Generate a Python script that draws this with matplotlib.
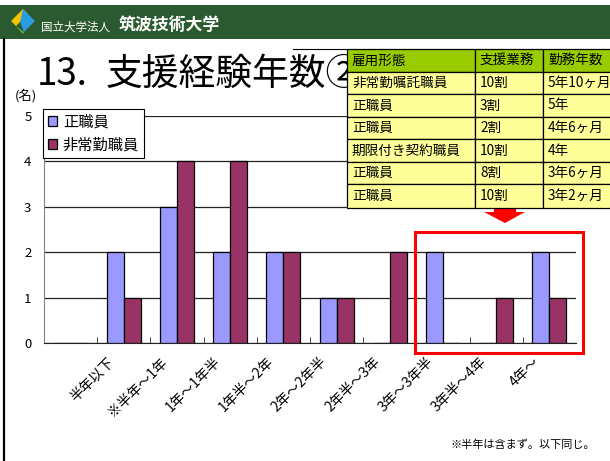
import numpy as np
import matplotlib
matplotlib.use("Agg")
import matplotlib.pyplot as plt
import matplotlib.transforms as mtransforms
from matplotlib.patches import Rectangle, Polygon, Patch
from matplotlib.lines import Line2D

plt.rcParams['font.family'] = ['Noto Sans CJK JP', 'DejaVu Sans']

# 経験年数の区分（先頭は空の区分）
categories = ["", "半年以下", "※半年～1年", "1年～1年半", "1年半～2年", "2年～2年半",
              "2年半～3年", "3年～3年半", "3年半～4年", "4年～"]
seishokuin = [0, 2, 3, 2, 2, 1, 0, 2, 0, 2]
hijoukin = [0, 1, 4, 4, 2, 1, 2, 0, 1, 1]
series_names = ["正職員", "非常勤職員"]

# 3年以上の職員一覧
table_header = ["雇用形態", "支援業務", "勤務年数"]
table_rows = [
    ["非常勤嘱託職員", "10割", "5年10ヶ月"],
    ["正職員", "3割", "5年"],
    ["正職員", "2割", "4年6ヶ月"],
    ["期限付き契約職員", "10割", "4年"],
    ["正職員", "8割", "3年6ヶ月"],
    ["正職員", "10割", "3年2ヶ月"],
]

W, H = 610, 461
fig = plt.figure(figsize=(W / 100, H / 100), dpi=100)


def fx(x):
    return x / W


def fy(y):
    return 1 - y / H


def rect(x0, y0, x1, y1, **kw):
    r = Rectangle((fx(x0), fy(y1)), fx(x1) - fx(x0), fy(y0) - fy(y1),
                  transform=fig.transFigure, **kw)
    fig.add_artist(r)
    return r


def poly(pts, **kw):
    p = Polygon([(fx(x), fy(y)) for x, y in pts], closed=True,
                transform=fig.transFigure, **kw)
    fig.add_artist(p)
    return p


# ヘッダー帯
rect(0, 5, W, 39, facecolor="#2c5a30", edgecolor="none", zorder=1)
poly([(11, 21), (23, 9), (28, 14), (16, 26)], facecolor="#f2c400", edgecolor="none", zorder=2)
poly([(23, 9), (35, 21), (24, 32), (20, 22)], facecolor="#2a9be0", edgecolor="none", zorder=2)
poly([(11, 21), (16, 26), (24, 32), (23, 34)], facecolor="#5cb531", edgecolor="none", zorder=2)
fig.text(fx(41), fy(27), "国立大学法人", color="white", fontsize=8.3, va="center", zorder=3)
fig.text(fx(119), fy(25), "筑波技術大学", color="white", fontsize=12.2,
         fontweight="bold", va="center", zorder=3)

# 左の縦線
fig.add_artist(Line2D([fx(4), fx(4)], [fy(39), fy(H)], color="black", lw=1.6,
                      transform=fig.transFigure, zorder=3))
fig.add_artist(Line2D([fx(293), fx(347)], [fy(49), fy(49)], color="black", lw=0.8,
                      transform=fig.transFigure, zorder=3))

# タイトル（②は表の下に隠れる）
fig.text(fx(37), fy(85), "13.", fontsize=26.5, va="baseline", zorder=2)
fig.text(fx(106), fy(85), "支援経験年数②", fontsize=26.5, va="baseline", zorder=2)
fig.text(fx(15), fy(96), "(名)", fontsize=9.5, va="center", zorder=2)

# グラフ
ax = fig.add_axes([fx(44), fy(343), fx(576) - fx(44), fy(116) - fy(343)])
x = np.arange(len(categories))
bw = 0.32
ax.bar(x - bw / 2, seishokuin, bw, color="#9999ff", edgecolor="black", lw=0.9,
       label=series_names[0], zorder=3)
ax.bar(x + bw / 2, hijoukin, bw, color="#993366", edgecolor="black", lw=0.9,
       label=series_names[1], zorder=3)

ax.set_xlim(-0.5, len(categories) - 0.5)
ax.set_ylim(0, 5)
ax.set_yticks(range(6))
ax.tick_params(axis="y", length=0, pad=9, labelsize=9.5)
ax.grid(axis="y", color="#222222", lw=0.9, zorder=0)
for s in ["top", "right"]:
    ax.spines[s].set_visible(False)
ax.spines["left"].set_color("#808080")
ax.spines["bottom"].set_color("#222222")

ax.set_xticks(x)
ax.set_xticklabels(categories, rotation=45, ha="right", va="center",
                   rotation_mode="anchor", fontsize=10)
ax.tick_params(axis="x", which="major", length=0, pad=12)
ax.set_xticks(np.arange(0.5, len(categories) - 0.5), minor=True)
ax.tick_params(axis="x", which="minor", length=4, direction="in", color="#222222")
shift = mtransforms.ScaledTranslation(-12 / 100, 0, fig.dpi_scale_trans)
for lbl in ax.get_xticklabels():
    lbl.set_transform(lbl.get_transform() + shift)

handles = [Patch(facecolor="#9999ff", edgecolor="black", lw=0.9),
           Patch(facecolor="#993366", edgecolor="black", lw=0.9)]
leg = ax.legend(handles, series_names, loc="upper left",
                bbox_to_anchor=(fx(43), fy(109)), bbox_transform=fig.transFigure,
                fontsize=11, frameon=True, fancybox=False, framealpha=1,
                edgecolor="black", handlelength=0.6, handleheight=0.6,
                handletextpad=0.4, borderpad=0.3, labelspacing=0.4,
                borderaxespad=0)
leg.get_frame().set_linewidth(0.8)
leg.set_zorder(5)

# 右上の表
col_x = [347, 475, 543, 612]
row_y = [49, 72, 94, 117, 139, 162, 184, 208]
for r in range(len(row_y) - 1):
    fc = "#99cc00" if r == 0 else "#ffff99"
    for c in range(3):
        rect(col_x[c], row_y[r], col_x[c + 1], row_y[r + 1], facecolor=fc,
             edgecolor="black", lw=0.9, zorder=5)
        txt = table_header[c] if r == 0 else table_rows[r - 1][c]
        fig.text(fx(col_x[c] + 5), fy((row_y[r] + row_y[r + 1]) / 2), txt,
                 fontsize=9.8, va="center", ha="left", zorder=6)

# 赤い矢印と枠
poly([(494, 203), (516, 203), (516, 212), (525, 212), (505, 223), (484, 212), (494, 212)],
     facecolor="#ff0000", edgecolor="none", zorder=4)
rect(415, 232, 583, 353, facecolor="none", edgecolor="#ff0000", lw=2.2, zorder=4)

fig.text(fx(451), fy(445), "※半年は含まず。以下同じ。", fontsize=8, va="center", zorder=2)

fig.savefig("out.png", dpi=100)
